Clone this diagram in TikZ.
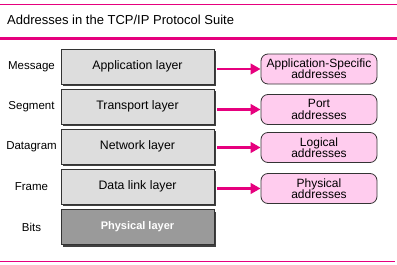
\documentclass[tikz,border=0pt]{standalone}
\usepackage{fontspec}
\setmainfont{Liberation Sans}
\usetikzlibrary{arrows.meta,shadows}
\definecolor{mag}{HTML}{E6007E}
\definecolor{pinkfill}{HTML}{FFCCEE}
\definecolor{grayfill}{HTML}{DDDDDD}
\definecolor{darkfill}{HTML}{9A9A9A}
\definecolor{edge}{HTML}{333333}
\tikzset{
  layerbox/.style={draw=edge, line width=0.8pt, fill=grayfill, minimum width=153pt, minimum height=35pt,
    inner sep=0pt, font=\fontsize{12.3}{14}\selectfont,
    drop shadow={shadow xshift=2.2pt, shadow yshift=-2.2pt, fill=black!75, opacity=1}},
  physbox/.style={layerbox, fill=darkfill, text=white, font=\fontsize{11}{13}\selectfont\bfseries},
  addrbox/.style={draw=edge, line width=0.8pt, fill=pinkfill, rounded corners=7pt, minimum width=116pt,
    minimum height=30pt, inner sep=0pt, align=center, font=\fontsize{12}{11.2}\selectfont},
  unitlabel/.style={font=\fontsize{11.5}{13}\selectfont},
  arr/.style={draw=mag, line width=2.6pt, -{Triangle[length=10pt,width=10.5pt]}},
  rule/.style={draw=mag}
}
\begin{document}
\begin{tikzpicture}[x=1pt,y=-1pt]
\useasboundingbox[fill=white] (0,0) rectangle (397,265);
% rules
\coordinate (t1) at (0,4); \coordinate (t2) at (397,4);
\coordinate (m1) at (0,38.5); \coordinate (m2) at (397,38.5);
\coordinate (b1) at (0,261); \coordinate (b2) at (395,261);
\draw[rule, line width=1pt] (t1) -- (t2);
\draw[rule, line width=2.4pt] (m1) -- (m2);
\draw[rule, line width=1pt] (b1) -- (b2);
\node[anchor=west, inner sep=0pt, font=\fontsize{13}{15}\selectfont] (title) at (7,20) {Addresses in the TCP/IP Protocol Suite};
% layers
\node[layerbox] (app) at (137.5,66.5) {Application layer};
\node[layerbox] (tra) at (137.5,106.5) {Transport layer};
\node[layerbox] (net) at (137.5,146.5) {Network layer};
\node[layerbox] (dl) at (137.5,186.5) {Data link layer};
\node[physbox] (phy) at (137.5,227) {Physical layer};
% units
\node[unitlabel] (u1) at (31.5,66.5) {Message};
\node[unitlabel] (u2) at (31.5,106.5) {Segment};
\node[unitlabel] (u3) at (31.5,146.5) {Datagram};
\node[unitlabel] (u4) at (31.5,186.5) {Frame};
\node[unitlabel] (u5) at (31.5,227) {Bits};
% addresses
\node[addrbox] (a1) at (319,69) {Application-Specific\\addresses};
\node[addrbox] (a2) at (319,109.5) {Port\\addresses};
\node[addrbox] (a3) at (319,147.5) {Logical\\addresses};
\node[addrbox] (a4) at (319,188.5) {Physical\\addresses};
% arrows
\draw[arr] ([xshift=3pt]app.east |- a1.west) -- (a1.west);
\draw[arr] ([xshift=3pt]tra.east |- a2.west) -- (a2.west);
\draw[arr] ([xshift=3pt]net.east |- a3.west) -- (a3.west);
\draw[arr] ([xshift=3pt]dl.east |- a4.west) -- (a4.west);
\end{tikzpicture}
\end{document}
